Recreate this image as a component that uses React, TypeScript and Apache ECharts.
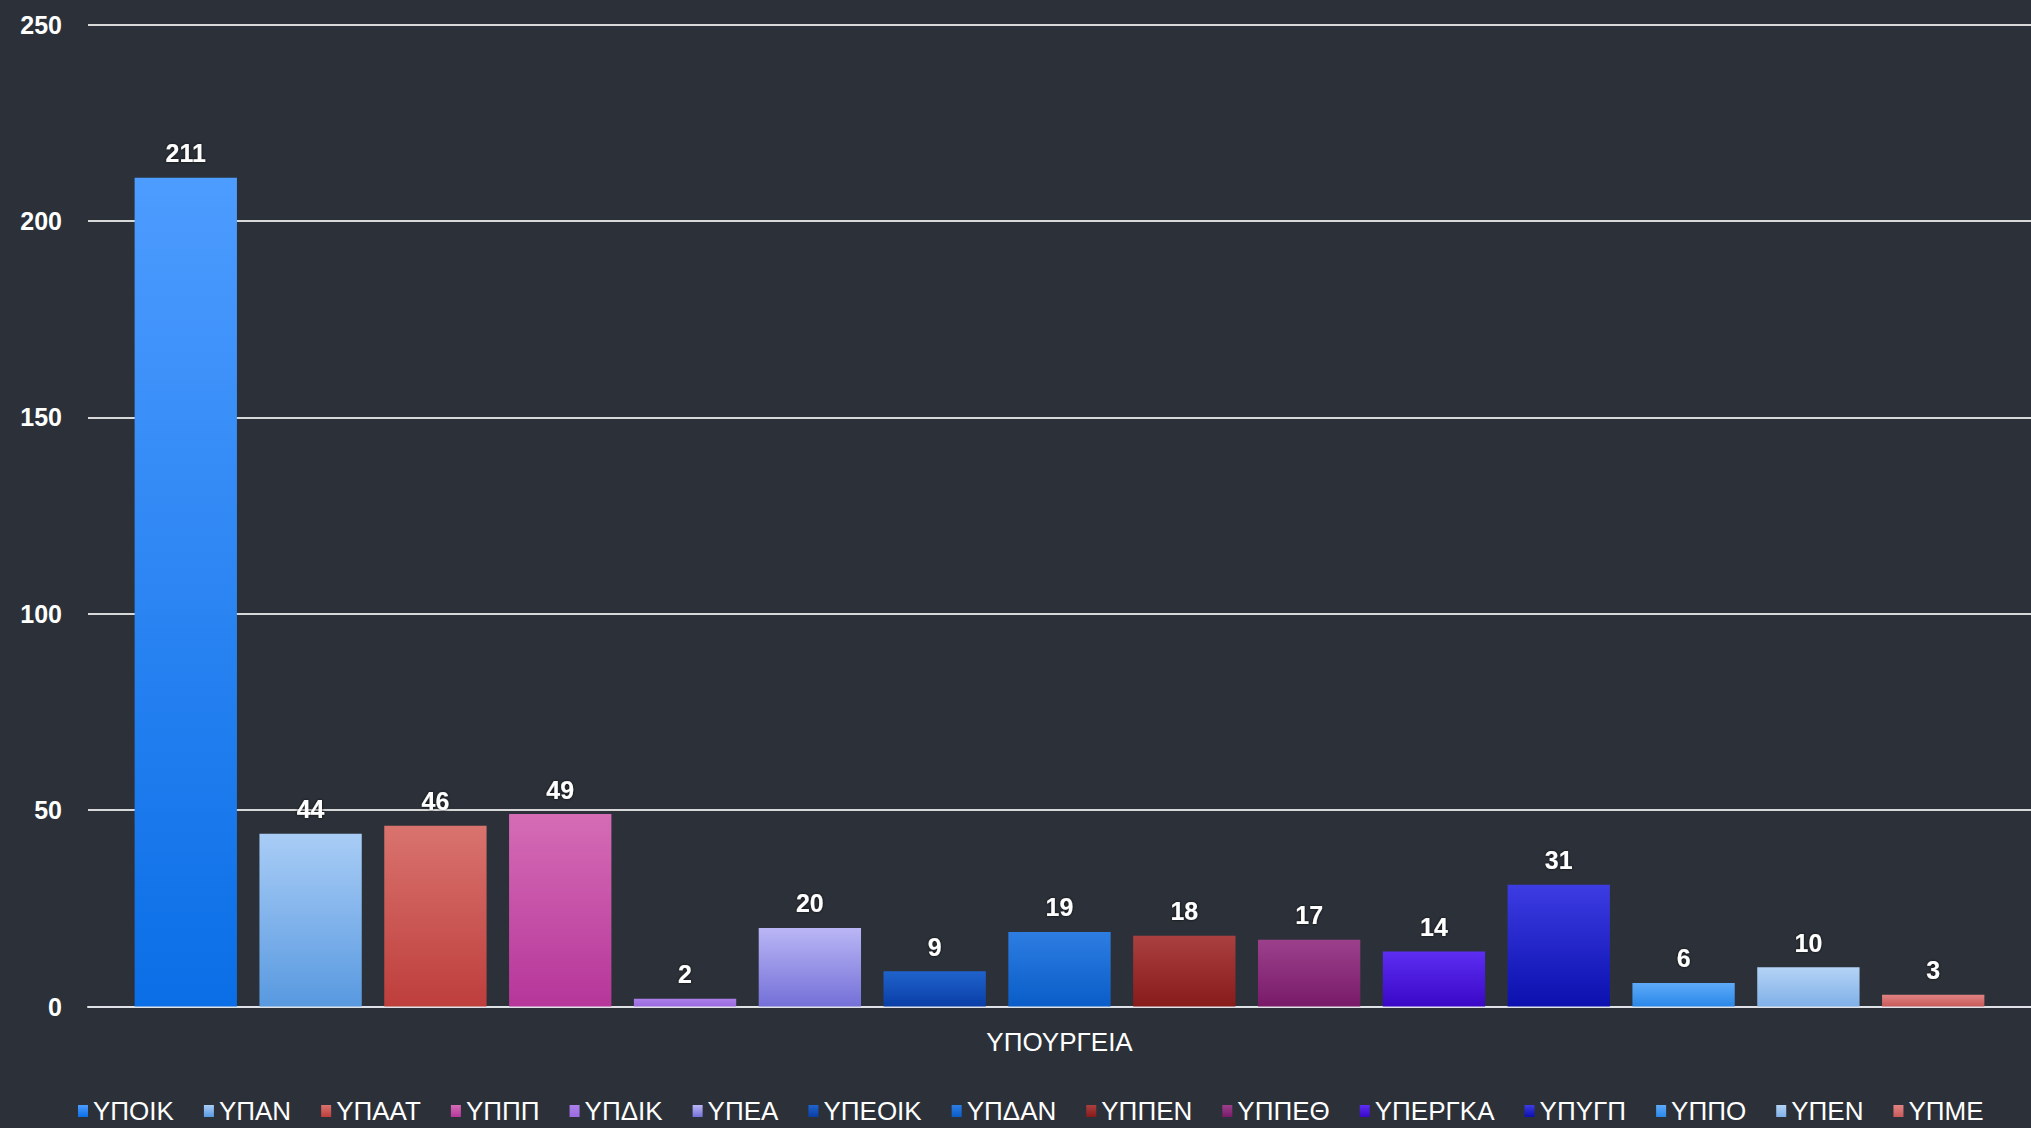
import React, { useEffect, useRef } from "react";
import * as echarts from "echarts";

const categories = ["ΥΠΟΥΡΓΕΙΑ"];
const seriesNames = [
  "ΥΠΟΙΚ", "ΥΠΑΝ", "ΥΠΑΑΤ", "ΥΠΠΠ", "ΥΠΔΙΚ", "ΥΠΕΑ", "ΥΠΕΟΙΚ", "ΥΠΔΑΝ",
  "ΥΠΠΕΝ", "ΥΠΠΕΘ", "ΥΠΕΡΓΚΑ", "ΥΠΥΓΠ", "ΥΠΠΟ", "ΥΠΕΝ", "ΥΠΜΕ",
];
const seriesValues = [211, 44, 46, 49, 2, 20, 9, 19, 18, 17, 14, 31, 6, 10, 3];
const yTicks = [0, 50, 100, 150, 200, 250];

// style: top / bottom gradient colours per series
const topColors = [
  "#4d9cff", "#a9cdf6", "#d9736e", "#d56cb5", "#ab80ea", "#bab6f5", "#2063cc", "#2d7de2",
  "#aa4040", "#9c408c", "#5c2ef2", "#3c3ce2", "#5eabf9", "#b4d3f5", "#e28383",
];
const bottomColors = [
  "#0a6ee6", "#5899e0", "#be3e3c", "#b6369a", "#9a6ae0", "#7470d8", "#093ea6", "#0a5dc8",
  "#881a1a", "#781a68", "#3a07c6", "#0b10ae", "#2a87e8", "#80b0e8", "#c85a5a",
];

const FONT = "'Liberation Sans', Arial, sans-serif";

export default function App() {
  const ref = useRef<HTMLDivElement>(null);

  useEffect(() => {
    document.body.style.margin = "0";
    document.body.style.background = "#2c3139";
    const chart = echarts.init(ref.current!, null, { renderer: "svg" });
    const series = seriesNames.map((name, i) => ({
      name,
      type: "bar",
      data: [seriesValues[i]],
      barGap: "22%",
      barCategoryGap: "4.8%",
      itemStyle: {
        color: new echarts.graphic.LinearGradient(0, 0, 0, 1, [
          { offset: 0, color: topColors[i] },
          { offset: 1, color: bottomColors[i] },
        ]),
      },
      label: {
        show: true,
        position: "top",
        distance: 12,
        color: "#ffffff",
        fontFamily: FONT,
        fontWeight: "bold",
        fontSize: 25,
        textShadowColor: "rgba(0,0,0,0.8)",
        textShadowBlur: 3,
      },
    }));

    chart.setOption({
      animation: false,
      backgroundColor: "#2c3139",
      textStyle: { fontFamily: FONT },
      color: topColors,
      legend: {
        data: seriesNames,
        bottom: 4,
        left: 78,
        width: 1953,
        padding: 0,
        itemWidth: 10,
        itemHeight: 12,
        itemGap: 30,
        icon: "rect",
        textStyle: { color: "#ffffff", fontSize: 26, fontFamily: FONT },
      },
      grid: { left: 88, right: -4, top: 24.6, bottom: 121.5, containLabel: false },
      xAxis: {
        type: "category",
        data: categories,
        axisTick: { show: false },
        axisLine: { lineStyle: { color: "#dfe3e8", width: 2 } },
        axisLabel: { color: "#ffffff", fontSize: 26, margin: 22, fontFamily: FONT },
      },
      yAxis: {
        type: "value",
        min: yTicks[0],
        max: yTicks[yTicks.length - 1],
        interval: yTicks[1] - yTicks[0],
        axisLine: { show: false },
        axisTick: { show: false },
        axisLabel: {
          color: "#ffffff",
          fontSize: 25,
          fontWeight: "bold",
          margin: 26,
          fontFamily: FONT,
        },
        splitLine: { lineStyle: { color: "#d8d8d8", width: 2 } },
      },
      series,
    });
    return () => chart.dispose();
  }, []);

  return (
    <div
      ref={ref}
      style={{ position: "absolute", left: 0, top: 0, width: 2031, height: 1128, background: "#2c3139" }}
    />
  );
}
